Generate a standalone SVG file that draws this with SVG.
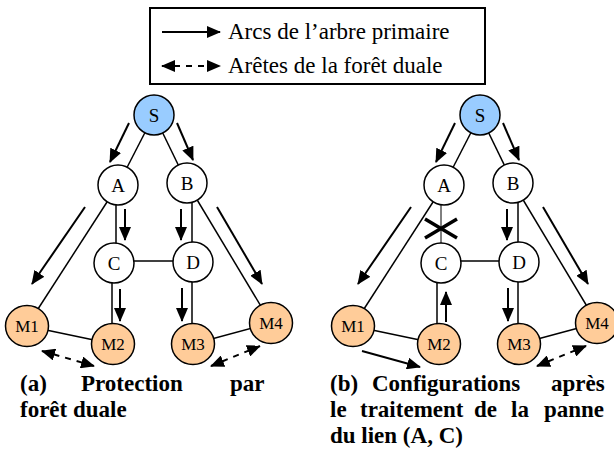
<svg xmlns="http://www.w3.org/2000/svg" width="614" height="457" viewBox="0 0 614 457">
<defs>
<marker id="ah" viewBox="0 0 14 12" markerWidth="14" markerHeight="12" refX="13" refY="6" orient="auto-start-reverse" markerUnits="userSpaceOnUse">
<path d="M0,0 L14,6 L0,12 z" fill="#000"/>
</marker>
<style>
.edge{stroke:#000;stroke-width:1.5;fill:none}
.thin{stroke:#000;stroke-width:1;fill:none}
.arr{stroke:#000;stroke-width:2;fill:none;marker-end:url(#ah)}
.darr{stroke:#000;stroke-width:2;fill:none;stroke-dasharray:6 6;marker-start:url(#ah);marker-end:url(#ah)}
.n{fill:#fff;stroke:#000;stroke-width:1.5}
.s{fill:#99ccff;stroke:#000;stroke-width:1.5}
.m{fill:#ffcc99;stroke:#000;stroke-width:1.5}
text{font-family:'Liberation Serif','DejaVu Serif','Times New Roman',serif;fill:#000}
.lbl{font-size:19px;text-anchor:middle}
.mlbl{font-size:17px;text-anchor:middle}
.leg{font-size:23px}
.cap{font-size:23px;font-weight:bold}
.x{stroke:#000;stroke-width:3.5;fill:none}
</style>
</defs>

<g id="legend">
<rect x="150" y="8" width="335" height="76" fill="#fff" stroke="#000" stroke-width="2"/>
<line x1="162" y1="32" x2="220" y2="32" class="arr"/>
<line x1="162" y1="66" x2="220" y2="66" class="darr"/>
<text x="228" y="39" class="leg">Arcs de l’arbre primaire</text>
<text x="228" y="73" class="leg">Arêtes de la forêt duale</text>
</g>

<g id="connectors">
<line x1="154" y1="115" x2="118" y2="185" class="edge"/>
<line x1="154" y1="115" x2="187" y2="183" class="edge"/>
<line x1="118" y1="185" x2="27" y2="326" class="edge"/>
<line x1="187" y1="183" x2="271" y2="323" class="edge"/>
<line x1="116" y1="200" x2="116" y2="250" class="edge"/>
<line x1="192" y1="200" x2="192" y2="250" class="edge"/>
<line x1="114" y1="261" x2="193" y2="261" class="edge"/>
<line x1="112" y1="275" x2="112" y2="330" class="edge"/>
<line x1="192" y1="275" x2="192" y2="330" class="edge"/>
<line x1="27" y1="326" x2="113" y2="344" class="edge"/>
<line x1="193" y1="344" x2="271" y2="323" class="edge"/>
<line x1="129" y1="123" x2="110" y2="162" class="arr"/>
<line x1="177" y1="123" x2="193" y2="160" class="arr"/>
<line x1="125" y1="209" x2="125" y2="240" class="arr"/>
<line x1="181" y1="209" x2="181" y2="240" class="arr"/>
<line x1="85" y1="207" x2="32" y2="284" class="arr"/>
<line x1="217" y1="207" x2="262" y2="284" class="arr"/>
<line x1="120" y1="289" x2="120" y2="321" class="arr"/>
<line x1="182" y1="288" x2="182" y2="321" class="arr"/>
<line x1="42" y1="351" x2="94" y2="366" class="darr"/>
<line x1="211" y1="366" x2="260" y2="346" class="darr"/>
<line x1="480" y1="115" x2="444" y2="185" class="edge"/>
<line x1="480" y1="115" x2="513" y2="183" class="edge"/>
<line x1="444" y1="185" x2="353" y2="326" class="edge"/>
<line x1="513" y1="183" x2="597" y2="323" class="edge"/>
<line x1="441" y1="200" x2="441" y2="250" class="thin"/>
<line x1="518" y1="200" x2="518" y2="250" class="edge"/>
<line x1="440" y1="261" x2="519" y2="261" class="edge"/>
<line x1="437" y1="275" x2="437" y2="330" class="edge"/>
<line x1="518" y1="275" x2="518" y2="330" class="edge"/>
<line x1="353" y1="326" x2="439" y2="344" class="edge"/>
<line x1="519" y1="344" x2="597" y2="323" class="edge"/>
<line x1="455" y1="123" x2="436" y2="162" class="arr"/>
<line x1="503" y1="123" x2="519" y2="160" class="arr"/>
<line x1="507" y1="209" x2="507" y2="240" class="arr"/>
<line x1="411" y1="207" x2="358" y2="284" class="arr"/>
<line x1="543" y1="207" x2="588" y2="284" class="arr"/>
<line x1="446" y1="322" x2="446" y2="292" class="arr"/>
<line x1="508" y1="288" x2="508" y2="321" class="arr"/>
<line x1="362" y1="351" x2="420" y2="367" class="arr"/>
<line x1="537" y1="366" x2="586" y2="346" class="darr"/>
<path d="M425,219 L457,238 M425,238 L457,219" class="x"/>
</g>

<g id="a-S"><circle cx="154" cy="115" r="20" class="s"/><text x="154" y="122" class="lbl">S</text></g>
<g id="a-A"><circle cx="118" cy="185" r="20" class="n"/><text x="118" y="192" class="lbl">A</text></g>
<g id="a-B"><circle cx="187" cy="183" r="20" class="n"/><text x="187" y="190" class="lbl">B</text></g>
<g id="a-C"><circle cx="114" cy="263" r="20" class="n"/><text x="114" y="270" class="lbl">C</text></g>
<g id="a-D"><circle cx="193" cy="262" r="20" class="n"/><text x="193" y="269" class="lbl">D</text></g>
<g id="a-M1"><ellipse cx="27" cy="326" rx="21.5" ry="20.5" class="m"/><text x="27" y="332" class="mlbl">M1</text></g>
<g id="a-M2"><ellipse cx="113" cy="344" rx="21.5" ry="20.5" class="m"/><text x="113" y="350" class="mlbl">M2</text></g>
<g id="a-M3"><ellipse cx="193" cy="344" rx="21.5" ry="20.5" class="m"/><text x="193" y="350" class="mlbl">M3</text></g>
<g id="a-M4"><ellipse cx="271" cy="323" rx="21.5" ry="20.5" class="m"/><text x="271" y="329" class="mlbl">M4</text></g>

<g id="b-S"><circle cx="480" cy="115" r="20" class="s"/><text x="480" y="122" class="lbl">S</text></g>
<g id="b-A"><circle cx="444" cy="185" r="20" class="n"/><text x="444" y="192" class="lbl">A</text></g>
<g id="b-B"><circle cx="513" cy="183" r="20" class="n"/><text x="513" y="190" class="lbl">B</text></g>
<g id="b-C"><circle cx="441" cy="263" r="20" class="n"/><text x="441" y="270" class="lbl">C</text></g>
<g id="b-D"><circle cx="519" cy="262" r="20" class="n"/><text x="519" y="269" class="lbl">D</text></g>
<g id="b-M1"><ellipse cx="353" cy="326" rx="21.5" ry="20.5" class="m"/><text x="353" y="332" class="mlbl">M1</text></g>
<g id="b-M2"><ellipse cx="439" cy="344" rx="21.5" ry="20.5" class="m"/><text x="439" y="350" class="mlbl">M2</text></g>
<g id="b-M3"><ellipse cx="519" cy="344" rx="21.5" ry="20.5" class="m"/><text x="519" y="350" class="mlbl">M3</text></g>
<g id="b-M4"><ellipse cx="597" cy="323" rx="21.5" ry="20.5" class="m"/><text x="597" y="329" class="mlbl">M4</text></g>

<g id="captions">
<text class="cap" y="391"><tspan x="20">(a)</tspan><tspan x="81">Protection</tspan><tspan x="230">par</tspan></text>
<text class="cap" x="20" y="417">forêt duale</text>
<text class="cap" y="391"><tspan x="330">(b)</tspan><tspan x="372">Configurations</tspan><tspan x="551">après</tspan></text>
<text class="cap" y="417"><tspan x="330">le</tspan><tspan x="360">traitement</tspan><tspan x="474">de</tspan><tspan x="511">la</tspan><tspan x="544">panne</tspan></text>
<text class="cap" x="330" y="443">du lien (A, C)</text>
</g>
</svg>
